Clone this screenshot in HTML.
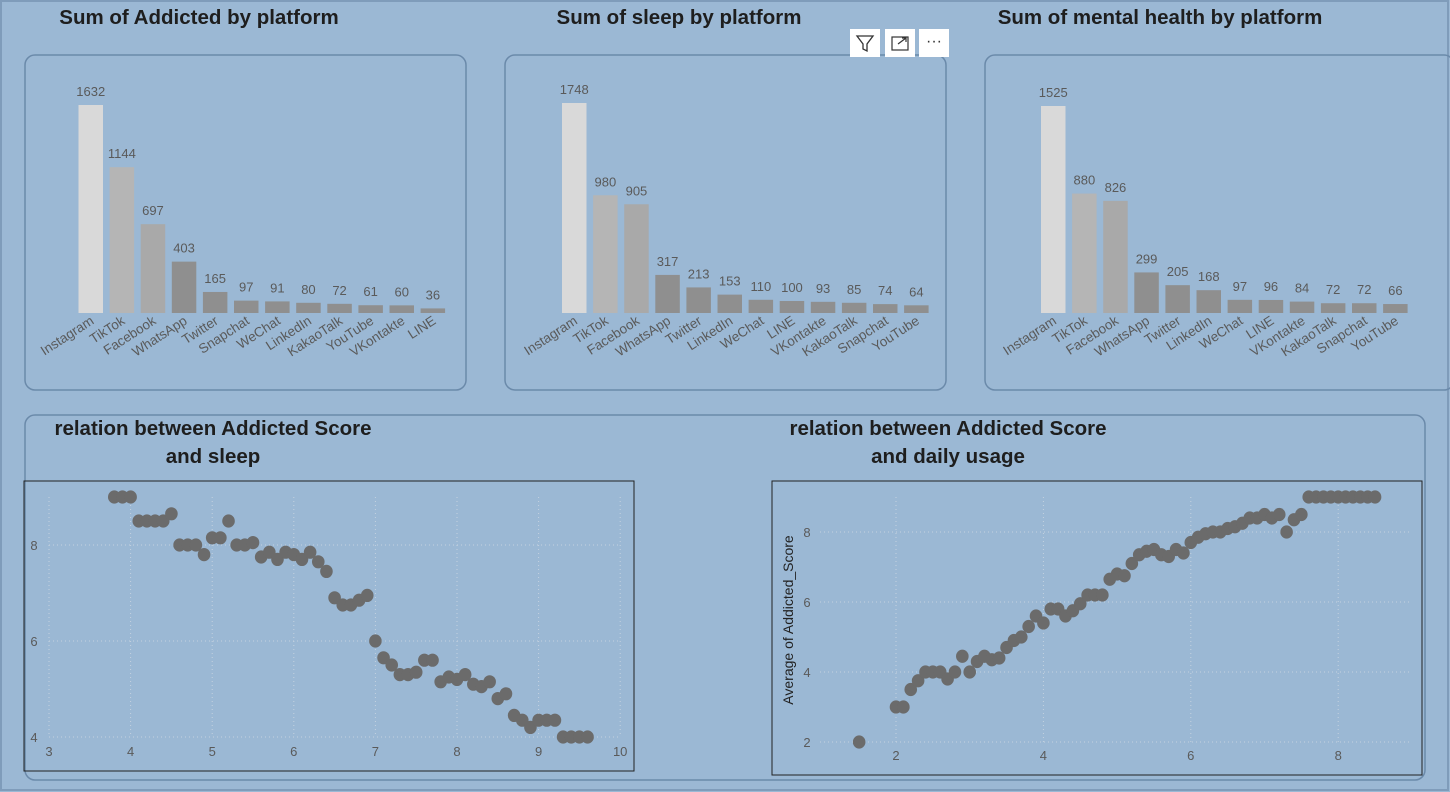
<!DOCTYPE html>
<html><head><meta charset="utf-8"><style>
body{margin:0;width:1450px;height:792px;background:#9bb8d4;font-family:"Liberation Sans",sans-serif;overflow:hidden;}
svg{position:absolute;left:0;top:0;}
</style></head><body>
<svg id="s" width="1450" height="792" xmlns="http://www.w3.org/2000/svg">
<rect x="1" y="1" width="1447" height="789" fill="#9bb8d4" stroke="#7f9cba" stroke-width="2"/>
<text x="199" y="24" text-anchor="middle" font-size="20.5" font-weight="bold" fill="#1e1e1e">Sum of Addicted  by platform</text>
<text x="679" y="24" text-anchor="middle" font-size="20.5" font-weight="bold" fill="#1e1e1e">Sum of sleep by platform</text>
<text x="1160" y="24" text-anchor="middle" font-size="20.5" font-weight="bold" fill="#1e1e1e">Sum of mental health by platform</text>
<rect x="25" y="55" width="441" height="335" rx="10" fill="none" stroke="#6b8aaa" stroke-width="1.5"/>
<rect x="505" y="55" width="441" height="335" rx="10" fill="none" stroke="#6b8aaa" stroke-width="1.5"/>
<rect x="985" y="55" width="469" height="335" rx="10" fill="none" stroke="#6b8aaa" stroke-width="1.5"/>
<g>
<rect x="850" y="29" width="30" height="28" fill="#fff"/>
<path d="M857 36 L873 36 L867 44 L867 51 L863 49 L863 44 Z" fill="none" stroke="#333" stroke-width="1.3"/>
<rect x="885" y="29" width="30" height="28" fill="#fff"/>
<rect x="892" y="37" width="16" height="13" fill="none" stroke="#333" stroke-width="1.2"/>
<path d="M898 44 L906 38 M902 38 L906 38 L906 42" stroke="#333" fill="none" stroke-width="1.2"/>
<rect x="919" y="29" width="30" height="28" fill="#fff"/>
<text x="934" y="46" text-anchor="middle" font-size="16" fill="#333">···</text>
</g>
<rect x="25" y="415" width="1400" height="365" rx="10" fill="none" stroke="#6b8aaa" stroke-width="1.5"/>
<text x="213" y="435" text-anchor="middle" font-size="20.5" font-weight="bold" fill="#1e1e1e">relation between  Addicted Score</text>
<text x="213" y="463" text-anchor="middle" font-size="20.5" font-weight="bold" fill="#1e1e1e">and sleep</text>
<text x="948" y="435" text-anchor="middle" font-size="20.5" font-weight="bold" fill="#1e1e1e">relation between  Addicted Score</text>
<text x="948" y="463" text-anchor="middle" font-size="20.5" font-weight="bold" fill="#1e1e1e">and daily usage</text>
<rect x="24" y="481" width="610" height="290" fill="none" stroke="#222" stroke-width="1"/>
<rect x="772" y="481" width="650" height="294" fill="none" stroke="#222" stroke-width="1"/>
<text transform="translate(793,620) rotate(-90)" text-anchor="middle" font-size="14" fill="#222">Average of Addicted_Score</text>
<g id="g"></g>
</svg>
<script>
const platforms1=["Instagram","TikTok","Facebook","WhatsApp","Twitter","Snapchat","WeChat","LinkedIn","KakaoTalk","YouTube","VKontakte","LINE"];
const values1=[1632,1144,697,403,165,97,91,80,72,61,60,36];
const platforms2=["Instagram","TikTok","Facebook","WhatsApp","Twitter","LinkedIn","WeChat","LINE","VKontakte","KakaoTalk","Snapchat","YouTube"];
const values2=[1748,980,905,317,213,153,110,100,93,85,74,64];
const platforms3=["Instagram","TikTok","Facebook","WhatsApp","Twitter","LinkedIn","WeChat","LINE","VKontakte","KakaoTalk","Snapchat","YouTube"];
const values3=[1525,880,826,299,205,168,97,96,84,72,72,66];
const sleepX=[3.8,3.9,4.0,4.1,4.2,4.3,4.4,4.5,4.6,4.7,4.8,4.9,5.0,5.1,5.2,5.3,5.4,5.5,5.6,5.7,5.8,5.9,6.0,6.1,6.2,6.3,6.4,6.5,6.6,6.7,6.8,6.9,7.0,7.1,7.2,7.3,7.4,7.5,7.6,7.7,7.8,7.9,8.0,8.1,8.2,8.3,8.4,8.5,8.6,8.7,8.8,8.9,9.0,9.1,9.2,9.3,9.4,9.5,9.6];
const sleepY=[9,9,9,8.5,8.5,8.5,8.5,8.65,8,8,8,7.8,8.15,8.15,8.5,8,8,8.05,7.75,7.85,7.7,7.85,7.8,7.7,7.85,7.65,7.45,6.9,6.75,6.75,6.85,6.95,6,5.65,5.5,5.3,5.3,5.35,5.6,5.6,5.15,5.25,5.2,5.3,5.1,5.05,5.15,4.8,4.9,4.45,4.35,4.2,4.35,4.35,4.35,4,4,4,4];
const usageX=[1.5,2.0,2.1,2.2,2.3,2.4,2.5,2.6,2.7,2.8,2.9,3.0,3.1,3.2,3.3,3.4,3.5,3.6,3.7,3.8,3.9,4.0,4.1,4.2,4.3,4.4,4.5,4.6,4.7,4.8,4.9,5.0,5.1,5.2,5.3,5.4,5.5,5.6,5.7,5.8,5.9,6.0,6.1,6.2,6.3,6.4,6.5,6.6,6.7,6.8,6.9,7.0,7.1,7.2,7.3,7.4,7.5,7.6,7.7,7.8,7.9,8.0,8.1,8.2,8.3,8.4,8.5];
const usageY=[2,3,3,3.5,3.75,4,4,4,3.8,4,4.45,4,4.3,4.45,4.35,4.4,4.7,4.9,5,5.3,5.6,5.4,5.8,5.8,5.6,5.75,5.95,6.2,6.2,6.2,6.65,6.8,6.75,7.1,7.35,7.45,7.5,7.35,7.3,7.5,7.4,7.7,7.85,7.95,8,8,8.1,8.15,8.25,8.4,8.4,8.5,8.4,8.5,8,8.35,8.5,9,9,9,9,9,9,9,9,9,9];
const sleepXTicks=[3,4,5,6,7,8,9,10], sleepYTicks=[4,6,8];
const usageXTicks=[2,4,6,8], usageYTicks=[2,4,6,8];

const NS="http://www.w3.org/2000/svg", G=document.getElementById('g');
function el(t,a,txt){const e=document.createElementNS(NS,t);for(const k in a)e.setAttribute(k,a[k]);if(txt!==undefined)e.textContent=txt;G.appendChild(e);return e;}
const colors=["#d9d9d9","#b5b5b5","#a9a9a9","#8f8f8f"];
function bars(cats,vals,x0,top,id){
  const base=313, step=31.1, w=24.5, sc=(base-top)/vals[0];
  cats.forEach((c,i)=>{
    const h=vals[i]*sc, x=x0+i*step;
    const r=el('rect',{x:x,y:base-h,width:w,height:h,fill:colors[Math.min(i,3)]});
    
    
    const t=el('text',{x:x+w/2,y:base-h-9,'text-anchor':'middle','font-size':13,fill:'#5a5a5a'},vals[i]);
    
    
    const l=el('text',{transform:`translate(${x+w/2+4},${base+10}) rotate(-33)`,'text-anchor':'end','font-size':13.5,fill:'#5a5a5a'},c);
    
    
  });
}
bars(platforms1,values1,78.5,105,'addicted');
bars(platforms2,values2,562,103,'sleep');
bars(platforms3,values3,1041,106,'mental');

function scatter(xs,ys,xt,yt,fx,fy,x1,x2,y1,y2,id,xl,yl){
  xt.forEach(v=>{el('line',{x1:fx(v),x2:fx(v),y1:y1,y2:y2,stroke:'#c4d2e0','stroke-dasharray':'1 3'});
    const t=el('text',{x:fx(v),y:yl,'text-anchor':'middle','font-size':13,fill:'#5a5a5a'},v);
    
    });
  yt.forEach(v=>{el('line',{x1:x1,x2:x2,y1:fy(v),y2:fy(v),stroke:'#c4d2e0','stroke-dasharray':'1 3'});
    const t=el('text',{x:xl,y:fy(v)+5,'text-anchor':'middle','font-size':13,fill:'#5a5a5a'},v);
    
    });
  xs.forEach((v,i)=>{const c=el('ellipse',{cx:fx(v),cy:fy(ys[i]),rx:6.3,ry:6.6,fill:'#6b6b6b'});
    
    });
}
scatter(sleepX,sleepY,sleepXTicks,sleepYTicks,v=>49+(v-3)*81.6,v=>545-(v-8)*48,49,620,497,737,'sleep-scatter',34,756);
scatter(usageX,usageY,usageXTicks,usageYTicks,v=>896+(v-2)*73.7,v=>532-(v-8)*35,820,1410,497,742,'usage-scatter',807,760);
</script>
</body></html>
